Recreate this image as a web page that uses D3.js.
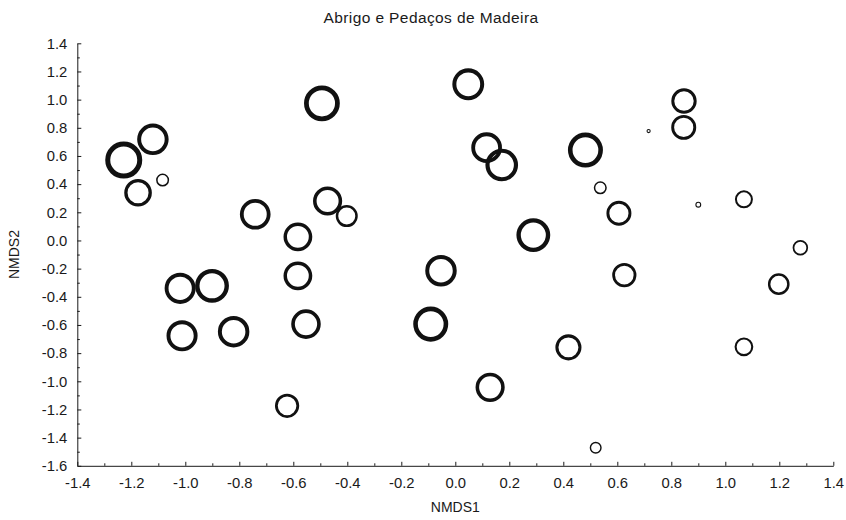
<!DOCTYPE html>
<html>
<head>
<meta charset="utf-8">
<script src="https://cdn.jsdelivr.net/npm/d3@7"></script>
<style>
  html, body { margin: 0; padding: 0; background: #fff; }
  svg text { font-family: "Liberation Sans", Arial, sans-serif; fill: #1a1a1a; }
</style>
</head>
<body>
<svg id="chart" width="846" height="520"></svg>
<script>
// NMDS ordination scores per sample (axis 1, axis 2) and bubble value
const nmds1 = [-1.228, -1.120, -1.175, -1.084, -0.494, -0.741, -0.583, -0.473, -0.402,
               -1.019, -0.901, -1.012, -0.821, -0.583, -0.553, -0.623,
                0.048,  0.116,  0.172,  0.482,  0.289, -0.053, -0.091,  0.129,  0.419,
                0.537,  0.606,  0.626,  0.520,  0.716,  0.847,  0.846,  0.900,
                1.069,  1.278,  1.198,  1.069];
const nmds2 = [ 0.571,  0.718,  0.339,  0.429,  0.974,  0.186,  0.026,  0.280,  0.173,
               -0.340, -0.322, -0.677, -0.648, -0.251, -0.594, -1.174,
                1.109,  0.659,  0.536,  0.642,  0.038, -0.215, -0.594, -1.043, -0.759,
                0.374,  0.193, -0.246, -1.472,  0.777,  0.990,  0.803,  0.254,
                0.292, -0.052, -0.310, -0.755];
const bubble = [100, 86, 76, 36, 97, 84, 79, 80, 61,
                85, 92, 85, 86, 79, 81, 67,
                87, 84, 89, 95, 92, 86, 95, 80, 72,
                36, 69, 67, 33, 10, 70, 69, 15,
                50, 43, 60, 52];

const xTickLabels = ["-1.4","-1.2","-1.0","-0.8","-0.6","-0.4","-0.2","0.0","0.2","0.4","0.6","0.8","1.0","1.2","1.4"];
const yTickLabels = ["-1.6","-1.4","-1.2","-1.0","-0.8","-0.6","-0.4","-0.2","0.0","0.2","0.4","0.6","0.8","1.0","1.2","1.4"];

const title = "Abrigo e Pedaços de Madeira";
const xTitle = "NMDS1";
const yTitle = "NMDS2";

const svg = d3.select("#chart");
const plotL = 77.3, plotR = 833.3, plotT = 43.3, plotB = 465.8;

const xTicks = xTickLabels.map(Number);
const yTicks = yTickLabels.map(Number);

const x = d3.scaleLinear().domain([xTicks[0], xTicks[xTicks.length - 1]]).range([plotL, plotR]);
const y = d3.scaleLinear().domain([yTicks[0], yTicks[yTicks.length - 1]]).range([plotB, plotT]);
const r = d3.scaleLinear().domain([0, 100]).range([0, 16]);
const sw = d3.scalePow().exponent(2).domain([0, 100]).range([1, 5]);

const midpoints = t => t.slice(0, -1).map((v, i) => (v + t[i + 1]) / 2);
const fmt = d => d.toFixed(1);

// minor ticks (no labels)
svg.append("g")
  .attr("transform", `translate(0,${plotB})`)
  .call(d3.axisBottom(x).tickValues(midpoints(xTicks)).tickSize(-2.5).tickFormat(""))
  .call(g => g.select(".domain").remove());
svg.append("g")
  .attr("transform", `translate(${plotL},0)`)
  .call(d3.axisLeft(y).tickValues(midpoints(yTicks)).tickSize(-2.5).tickFormat(""))
  .call(g => g.select(".domain").remove());

// major axes
svg.append("g")
  .attr("transform", `translate(0,${plotB})`)
  .call(d3.axisBottom(x).tickValues(xTicks).tickFormat(fmt).tickSize(-4).tickSizeOuter(0).tickPadding(12));
svg.append("g")
  .attr("transform", `translate(${plotL},0)`)
  .call(d3.axisLeft(y).tickValues(yTicks).tickFormat(fmt).tickSize(-4).tickSizeOuter(0).tickPadding(10));

svg.selectAll(".tick line, .domain").attr("stroke", "#1a1a1a").attr("stroke-width", 1);
svg.selectAll(".tick text").attr("font-size", 14.8).attr("font-family", null);

// bubbles
const pts = nmds1.map((v, i) => ({ a: v, b: nmds2[i], s: bubble[i] }));
svg.append("g")
  .selectAll("circle")
  .data(pts)
  .join("circle")
  .attr("cx", d => x(d.a))
  .attr("cy", d => y(d.b))
  .attr("r", d => r(d.s))
  .attr("fill", "none")
  .attr("stroke", "#111")
  .attr("stroke-width", d => sw(d.s));

// titles
svg.append("text")
  .attr("x", 431).attr("y", 23)
  .attr("text-anchor", "middle")
  .attr("font-size", 15.5)
  .attr("letter-spacing", 0.4)
  .text(title);
svg.append("text")
  .attr("x", (plotL + plotR) / 2).attr("y", 512)
  .attr("text-anchor", "middle")
  .attr("font-size", 14)
  .text(xTitle);
svg.append("text")
  .attr("transform", `translate(19,${(plotT + plotB) / 2}) rotate(-90)`)
  .attr("text-anchor", "middle")
  .attr("font-size", 14)
  .text(yTitle);
</script>
</body>
</html>
